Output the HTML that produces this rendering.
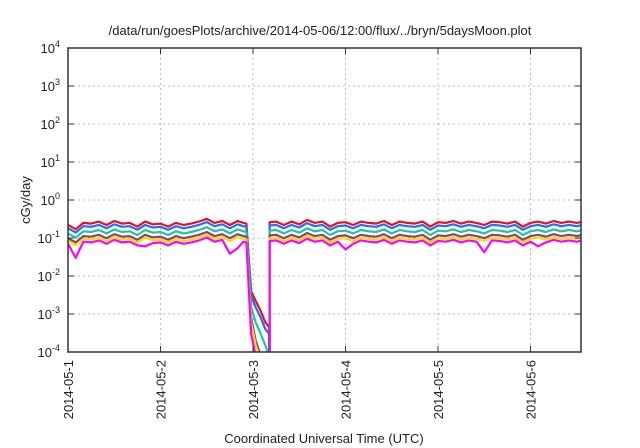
<!DOCTYPE html>
<html><head><meta charset="utf-8"><style>
body{margin:0;background:#fff;}
svg{display:block;font-family:"Liberation Sans",sans-serif;}
</style></head><body>
<svg id="chart" width="640" height="448">
<text x="320" y="35" text-anchor="middle" font-size="13" fill="#222">/data/run/goesPlots/archive/2014-05-06/12:00/flux/../bryn/5daysMoon.plot</text>
<text x="0" y="0" transform="translate(30,200) rotate(-90)" text-anchor="middle" font-size="13" fill="#222">cGy/day</text>
<text x="324" y="443" text-anchor="middle" font-size="13" fill="#222">Coordinated Universal Time (UTC)</text>
<g id="grid"></g><g id="series" clip-path="url(#clip)"></g><g id="axes"></g>
<defs><clipPath id="clip"><rect x="68" y="48" width="513" height="304"/></clipPath></defs>
</svg>
<script>
const xTickLabels=["2014-05-1","2014-05-2","2014-05-3","2014-05-4","2014-05-5","2014-05-6"];
const yTickExps=[-4,-3,-2,-1,0,1,2,3,4];
const hours=[0,2,4,6,8,10,12,14,16,18,20,22,24,26,28,30,32,34,36,38,40,42,44,45.5,46.3,47.5,48.7,50,51.2,52.2,52.3,54,56,58,60,62,64,66,68,70,72,74,76,78,80,82,84,86,88,90,92,94,96,98,100,102,104,106,108,110,112,114,116,118,120,122,124,126,128,130,132,133.5];
const red=[0.22,0.17,0.25,0.24,0.27,0.22,0.28,0.24,0.25,0.2,0.27,0.23,0.24,0.2,0.25,0.22,0.24,0.27,0.32,0.25,0.28,0.22,0.28,0.25,0.24,0.004,0.0022,0.0012,0.0006,0.00045,0.26,0.27,0.22,0.27,0.23,0.3,0.25,0.27,0.2,0.25,0.26,0.22,0.27,0.25,0.24,0.28,0.22,0.27,0.25,0.24,0.27,0.2,0.26,0.25,0.28,0.24,0.27,0.25,0.22,0.27,0.26,0.24,0.27,0.2,0.25,0.27,0.24,0.28,0.25,0.27,0.25,0.27];
const seriesNames=["red","blue","teal","purple","yellow","magenta"];
const seriesColors=["#e8111b","#1e6fff","#16c9a0","#8e3f7a","#f0e000","#ff00ff"];
const seriesScale=[1,0.82,0.6,0.45,0.38,0.32];
const dropRed=[0.004,0.0022,0.0012,0.0006,0.00045];
const dropBlue=[0.003,0.0015,0.0008,0.0004,0.0003];
const dropTeal=[0.0015,0.0006,0.0003,0.00015,0.00008];
const dropPurple=[0.0008,0.0002,0.00008,0.00004,0.00002];
const dropYellow=[0.0006,0.00015,0.00006,0.00003,0.00002];
const dropMagenta=[0.0003,0.00008,0.00003,0.00001,0.00001];
const drops=[dropRed,dropBlue,dropTeal,dropPurple,dropYellow,dropMagenta];
const magentaDips={1:0.55,10:0.7,21:0.55,22:0.6,29:0.7,40:0.6,58:0.6,65:0.7};
const NS="http://www.w3.org/2000/svg";
const L=68,R=581,T=48,B=352;
const xs=h=>L+(h/24)*92.5;
const ys=v=>B-(Math.log10(v)+4)*(B-T)/8;
function el(t,a,p){const e=document.createElementNS(NS,t);for(const k in a)e.setAttribute(k,a[k]);p.appendChild(e);return e;}
const grid=document.getElementById('grid'),axes=document.getElementById('axes'),ser=document.getElementById('series');
yTickExps.forEach(e=>{const y=ys(Math.pow(10,e));
 if(e>-4&&e<4){const g=el('line',{x1:L,x2:R,y1:y,y2:y,stroke:'#bbb','stroke-dasharray':'2,3'},grid);
 
 }
 const t=el('text',{x:L-8,y:y+5,'text-anchor':'end','font-size':'13',fill:'#222'},axes);
 
 
 t.innerHTML='10<tspan dy="-6" font-size="9">'+e+'</tspan>';
 el('line',{x1:L,x2:L+6,y1:y,y2:y,stroke:'#333'},axes);el('line',{x1:R,x2:R-6,y1:y,y2:y,stroke:'#333'},axes);});
xTickLabels.forEach((lab,i)=>{const x=xs(i*24);
 if(i>0){const g=el('line',{x1:x,x2:x,y1:T,y2:B,stroke:'#bbb','stroke-dasharray':'2,3'},grid);
 
 }
 el('line',{x1:x,x2:x,y1:B,y2:B-6,stroke:'#333'},axes);el('line',{x1:x,x2:x,y1:T,y2:T+6,stroke:'#333'},axes);
 const t=el('text',{x:0,y:0,transform:`translate(${x+5},${B+8}) rotate(-90)`,'text-anchor':'end','font-size':'13',fill:'#222'},axes);
 
 
 t.textContent=lab;});
const fr=el('rect',{x:L,y:T,width:R-L,height:B-T,fill:'none',stroke:'#333','stroke-width':1.5},axes);


seriesNames.forEach((n,s)=>{let pts=[];
 hours.forEach((h,i)=>{let v;
  if(i>=25&&i<=29) v=drops[s][i-25]; else { v=red[i]*seriesScale[s]; if(s===5&&magentaDips[i]) v*=magentaDips[i]; }
  pts.push(xs(h).toFixed(1)+','+ys(v).toFixed(1));
  if(i===29) pts.push(xs(h).toFixed(1)+','+(B+20));
 });
 const first=pts.slice(0,31), rest=pts.slice(31);
 const p=el('polyline',{points:first.concat([xs(hours[30]).toFixed(1)+','+(B+20)]).concat(rest).join(' '),fill:'none',stroke:seriesColors[s],'stroke-width':2.2,'stroke-linejoin':'round'},ser);
 
 
});
</script>
</body></html>
